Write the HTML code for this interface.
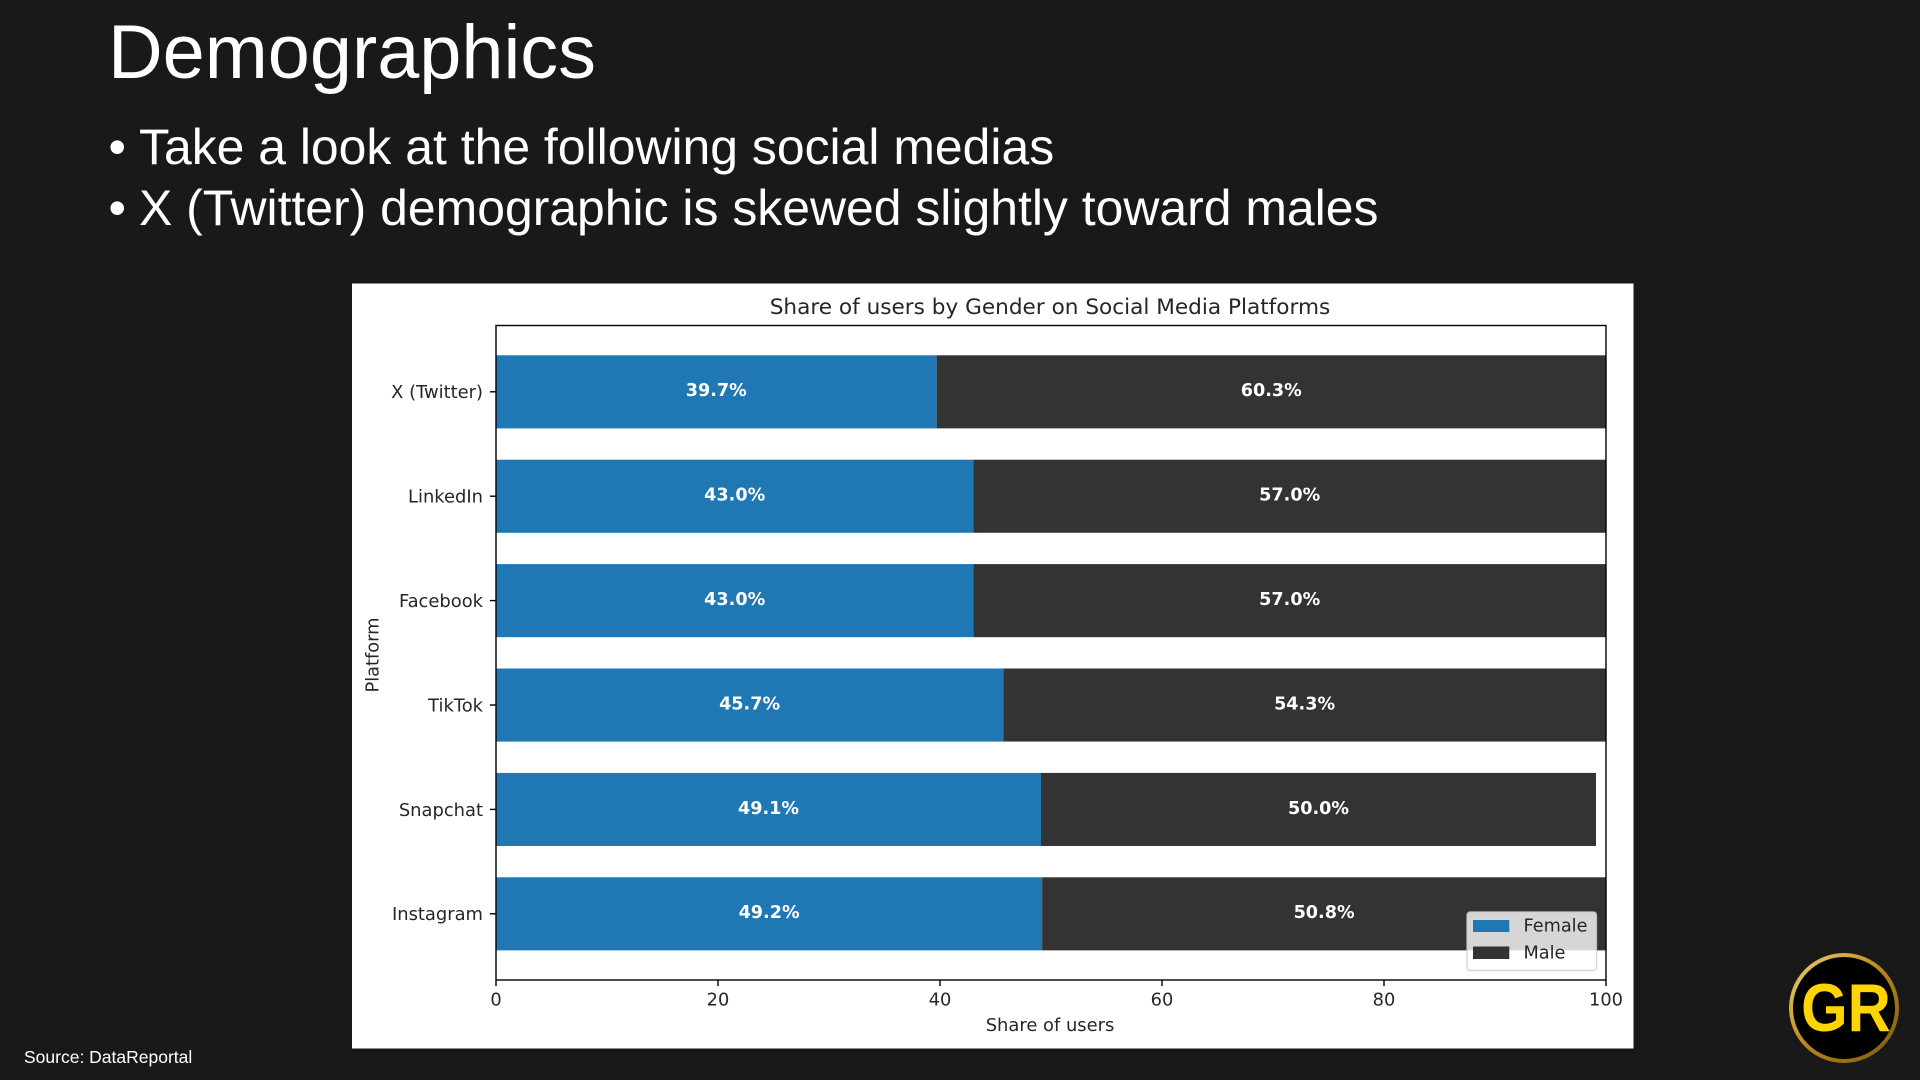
<!DOCTYPE html>
<html>
<head>
<meta charset="utf-8">
<style>
  html, body { margin:0; padding:0; background:#191919; }
  body { width:1920px; height:1080px; overflow:hidden; }
  svg { display:block; }
  .slide { font-family:"Liberation Sans", Arial, sans-serif; fill:#ffffff; }
  .mpl { font-family:"DejaVu Sans", "Liberation Sans", sans-serif; fill:#262626; }
  .bl { font-family:"DejaVu Sans", "Liberation Sans", sans-serif; font-weight:bold; fill:#ffffff; font-size:17.6px; text-anchor:middle; }
</style>
</head>
<body>
<svg width="1920" height="1080" viewBox="0 0 1920 1080" xmlns="http://www.w3.org/2000/svg">
  <rect x="0" y="0" width="1920" height="1080" fill="#191919"/>

  <!-- Slide title and bullets -->
  <text class="slide" x="108" y="78" font-size="75.7">Demographics</text>
  <text class="slide" x="108.5" y="164" font-size="49.9">•</text>
  <text class="slide" x="139" y="164" font-size="49.9">Take a look at the following social medias</text>
  <text class="slide" x="108.5" y="225" font-size="49.9">•</text>
  <text class="slide" x="139" y="225" font-size="49.9">X (Twitter) demographic is skewed slightly toward males</text>

  <!-- Source -->
  <text class="slide" x="24" y="1063" font-size="17.5">Source: DataReportal</text>

  <!-- Chart panel -->
  <rect x="352" y="283.5" width="1281.5" height="765" fill="#ffffff"/>

  <!-- Title -->
  <text class="mpl" x="1050" y="314" font-size="21.6" text-anchor="middle">Share of users by Gender on Social Media Platforms</text>

  <!-- Bars -->
  <rect x="496" y="355.3" width="440.67" height="73.07" fill="#1f77b4"/>
  <rect x="936.67" y="355.3" width="669.33" height="73.07" fill="#333333"/>
  <rect x="496" y="459.7" width="477.3" height="73.07" fill="#1f77b4"/>
  <rect x="973.3" y="459.7" width="632.7" height="73.07" fill="#333333"/>
  <rect x="496" y="564.1" width="477.3" height="73.07" fill="#1f77b4"/>
  <rect x="973.3" y="564.1" width="632.7" height="73.07" fill="#333333"/>
  <rect x="496" y="668.5" width="507.27" height="73.07" fill="#1f77b4"/>
  <rect x="1003.27" y="668.5" width="602.73" height="73.07" fill="#333333"/>
  <rect x="496" y="772.9" width="545.01" height="73.07" fill="#1f77b4"/>
  <rect x="1041.01" y="772.9" width="555" height="73.07" fill="#333333"/>
  <rect x="496" y="877.3" width="546.12" height="73.07" fill="#1f77b4"/>
  <rect x="1042.12" y="877.3" width="563.88" height="73.07" fill="#333333"/>

  <!-- Bar labels -->
  <text class="bl" x="716.3" y="396.2">39.7%</text>
  <text class="bl" x="1271.3" y="396.2">60.3%</text>
  <text class="bl" x="734.7" y="500.6">43.0%</text>
  <text class="bl" x="1289.7" y="500.6">57.0%</text>
  <text class="bl" x="734.7" y="605.0">43.0%</text>
  <text class="bl" x="1289.7" y="605.0">57.0%</text>
  <text class="bl" x="749.6" y="709.4">45.7%</text>
  <text class="bl" x="1304.6" y="709.4">54.3%</text>
  <text class="bl" x="768.5" y="813.8">49.1%</text>
  <text class="bl" x="1318.5" y="813.8">50.0%</text>
  <text class="bl" x="769.1" y="918.2">49.2%</text>
  <text class="bl" x="1324.1" y="918.2">50.8%</text>

  <!-- Axes spines -->
  <rect x="496" y="325.5" width="1110" height="654.5" fill="none" stroke="#000000" stroke-width="1.4"/>

  <!-- Y ticks -->
  <g stroke="#000" stroke-width="1.4">
    <line x1="489.9" y1="391.8" x2="496" y2="391.8"/>
    <line x1="489.9" y1="496.2" x2="496" y2="496.2"/>
    <line x1="489.9" y1="600.6" x2="496" y2="600.6"/>
    <line x1="489.9" y1="705.0" x2="496" y2="705.0"/>
    <line x1="489.9" y1="809.4" x2="496" y2="809.4"/>
    <line x1="489.9" y1="913.8" x2="496" y2="913.8"/>
  </g>
  <g class="mpl" font-size="17.9" text-anchor="end">
    <text x="483" y="398.2">X (Twitter)</text>
    <text x="483" y="502.6">LinkedIn</text>
    <text x="483" y="607.0">Facebook</text>
    <text x="483" y="711.4">TikTok</text>
    <text x="483" y="815.8">Snapchat</text>
    <text x="483" y="920.2">Instagram</text>
  </g>

  <!-- X ticks -->
  <g stroke="#000" stroke-width="1.4">
    <line x1="496" y1="980" x2="496" y2="986.1"/>
    <line x1="718" y1="980" x2="718" y2="986.1"/>
    <line x1="940" y1="980" x2="940" y2="986.1"/>
    <line x1="1162" y1="980" x2="1162" y2="986.1"/>
    <line x1="1384" y1="980" x2="1384" y2="986.1"/>
    <line x1="1606" y1="980" x2="1606" y2="986.1"/>
  </g>
  <g class="mpl" font-size="17.8" text-anchor="middle">
    <text x="496" y="1005.5">0</text>
    <text x="718" y="1005.5">20</text>
    <text x="940" y="1005.5">40</text>
    <text x="1162" y="1005.5">60</text>
    <text x="1384" y="1005.5">80</text>
    <text x="1606" y="1005.5">100</text>
  </g>

  <!-- Axis labels -->
  <text class="mpl" x="1050" y="1031" font-size="17.9" text-anchor="middle">Share of users</text>
  <text class="mpl" x="0" y="0" font-size="17.8" text-anchor="middle" transform="translate(378.5,655) rotate(-90)">Platform</text>

  <!-- Legend -->
  <rect x="1467" y="912" width="129.5" height="58.5" rx="3" ry="3" fill="#ffffff" fill-opacity="0.8" stroke="#cccccc" stroke-opacity="0.8" stroke-width="1.4"/>
  <rect x="1473" y="920" width="36.3" height="12" fill="#1f77b4"/>
  <rect x="1473" y="946.5" width="36.3" height="12.5" fill="#333333"/>
  <text class="mpl" x="1523.5" y="931.7" font-size="17.7">Female</text>
  <text class="mpl" x="1523.5" y="958.5" font-size="17.7">Male</text>

  <!-- GR logo -->
  <defs>
    <linearGradient id="gold" x1="0" y1="0" x2="1" y2="1">
      <stop offset="0" stop-color="#f0cf6a"/>
      <stop offset="0.5" stop-color="#b8861a"/>
      <stop offset="1" stop-color="#7a5a10"/>
    </linearGradient>
  </defs>
  <circle cx="1844" cy="1008" r="55" fill="#000000"/>
  <circle cx="1844" cy="1008" r="53" fill="none" stroke="url(#gold)" stroke-width="4"/>
  <text x="1846" y="1031" font-family="Liberation Sans, Arial, sans-serif" font-weight="bold" font-size="68" fill="#ffd400" text-anchor="middle" transform="translate(1846,0) scale(0.88,1) translate(-1846,0)">GR</text>
</svg>
</body>
</html>
